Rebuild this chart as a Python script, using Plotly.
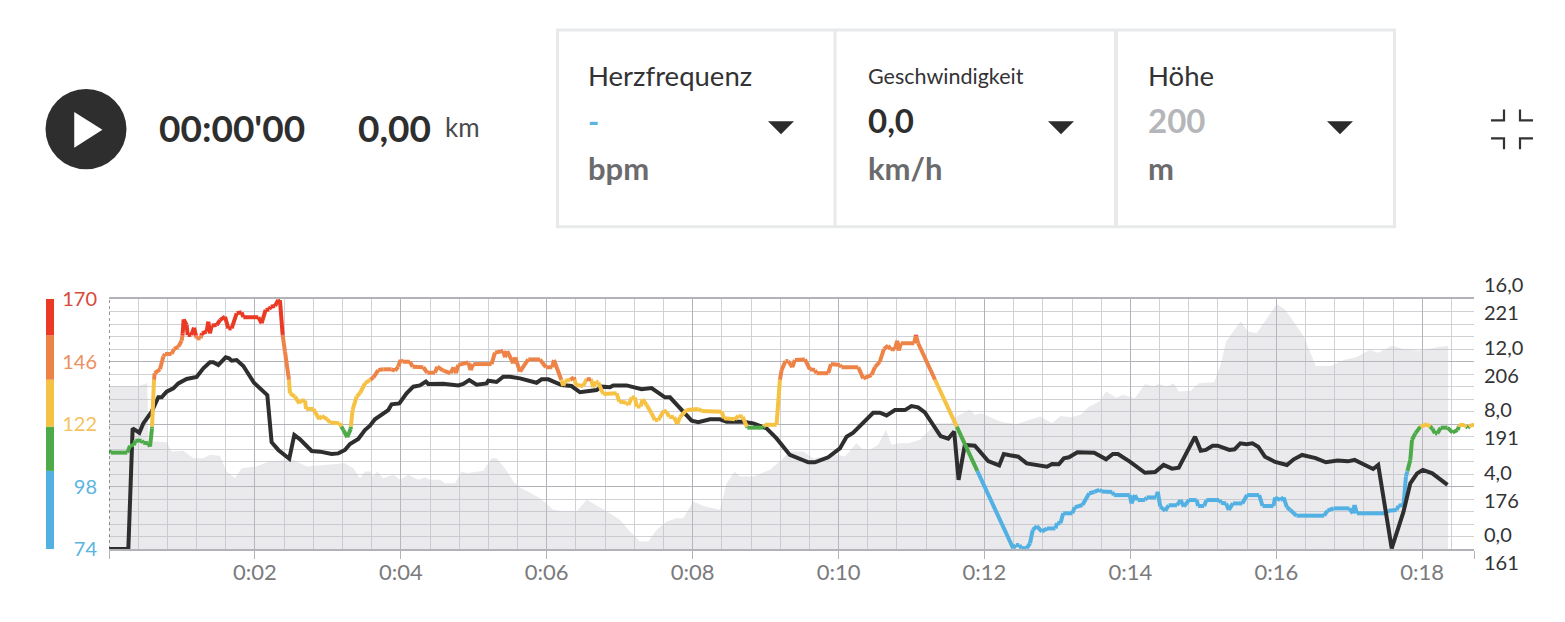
import plotly.graph_objects as go

# ---------- data ----------
alt_time = [0,0.379,0.525,0.539,0.79,0.859,1.019,1.156,1.293,1.384,1.521,1.612,1.727,1.818,2.024,2.183,2.526,2.709,3.234,3.348,3.44,3.508,3.577,3.623,3.677,3.76,3.897,3.988,4.102,4.239,4.331,4.399,4.536,4.605,4.742,4.833,4.902,5.13,5.244,5.313,5.427,5.541,5.633,5.77,5.907,6.09,6.227,6.409,6.547,6.707,6.866,7.003,7.141,7.278,7.392,7.506,7.643,7.78,7.872,8.008,8.168,8.374,8.465,8.579,8.648,8.831,9.059,9.219,9.333,9.516,9.653,9.973,10.087,10.247,10.338,10.429,10.543,10.649,10.726,10.841,10.955,11.115,11.344,11.527,11.617,11.8,11.868,11.959,12.21,12.347,12.44,12.579,12.764,12.926,13.042,13.181,13.32,13.436,13.575,13.667,13.806,13.899,14.061,14.2,14.316,14.385,14.501,14.594,14.663,14.826,14.941,15.15,15.243,15.312,15.511,15.613,15.729,16.007,16.123,16.378,16.54,16.748,16.933,17.096,17.281,17.397,17.582,17.744,17.953,18.207,18.355]
alt_m = [200,200,200.8,186.9,186.6,184.4,184.6,182.8,182.8,183.6,183.3,179.6,178,180.4,180.8,182,182.4,180.8,181.6,180.4,178,179.6,179.6,178.4,179.6,178,178.8,177.6,178.8,177.6,178.2,177.6,177.6,176.8,176.8,179.6,179.2,179.8,182.8,182.8,180.4,177.2,175.8,174.4,173.2,170.4,170,170,172.8,171.2,169.6,168,165.2,162.8,162.8,165.6,167.6,168.4,168.4,172.4,171.2,170.4,176.8,179.6,178.4,178.4,180,182.4,184.4,184.4,182.8,183.6,183.2,186.4,184.8,184.8,186,189.6,186,186.4,186.4,187.2,191.2,191.2,192.8,194.4,193.2,193.6,191.6,191.2,191,191.8,192.8,191.2,192.9,192.6,193.2,195.2,196.4,198.8,197.3,198,197.2,200.6,200,200.6,200,200.8,198.8,199,200.8,201,205.6,210.8,215.6,213.2,212.8,219.8,218.4,212,204.9,204.9,206.4,207,208.8,208.1,209.8,209,208.6,209.4,209.8]

speed_time = [0,0.265,0.324,0.416,0.47,0.585,0.676,0.722,0.79,0.882,0.95,1.064,1.201,1.293,1.384,1.43,1.498,1.599,1.645,1.681,1.75,1.841,1.987,2.069,2.17,2.229,2.321,2.471,2.54,2.618,2.778,2.892,3.052,3.143,3.234,3.303,3.417,3.508,3.577,3.645,3.737,3.828,3.874,3.979,4.079,4.171,4.262,4.344,4.376,4.582,4.788,4.856,4.938,5.039,5.176,5.199,5.313,5.404,5.496,5.633,5.861,5.93,6.021,6.204,6.34,6.455,6.683,6.752,6.866,6.912,7.095,7.3,7.437,7.62,7.689,7.826,7.986,8.077,8.237,8.374,8.465,8.694,8.831,9.014,9.15,9.333,9.447,9.585,9.676,9.858,10.018,10.11,10.201,10.338,10.475,10.566,10.658,10.772,10.909,11.0,11.091,11.183,11.297,11.398,11.503,11.585,11.645,11.731,11.868,12.051,12.202,12.265,12.347,12.463,12.579,12.857,12.926,13.019,13.088,13.158,13.274,13.505,13.667,13.76,13.83,13.992,14.2,14.339,14.455,14.571,14.663,14.779,14.886,14.965,15.034,15.127,15.196,15.358,15.428,15.507,15.59,15.673,15.752,15.845,15.984,16.146,16.239,16.354,16.54,16.679,16.841,16.98,17.073,17.327,17.397,17.582,17.744,17.837,17.93,18.008,18.138,18.347]
speed_kmh = [0,0,7.72,7.44,8.04,8.79,9.71,9.71,10.07,10.28,10.6,10.88,11.01,11.56,11.95,11.95,11.77,12.27,12.2,12.05,12.09,11.71,10.64,10.28,9.85,6.83,6.34,5.78,7.3,7.02,6.27,6.23,6.08,6.12,6.34,6.72,7.04,7.61,7.89,8.3,8.58,8.89,9.26,9.32,9.96,10.39,10.47,10.71,10.56,10.58,10.47,10.56,10.81,10.52,10.6,10.77,10.69,11.03,11.03,10.92,10.64,10.86,10.86,10.49,10.43,10.03,10.17,10.39,10.35,10.47,10.47,10.22,10.3,9.71,9.71,9.0,8.21,8.11,8.3,8.3,8.15,8.15,8.04,7.72,7.08,6.02,5.8,5.55,5.55,5.87,6.44,7.19,7.44,8.04,8.72,8.72,8.55,8.89,8.89,9.15,9.07,8.75,8.0,7.23,7.06,7.51,4.42,6.66,6.61,5.63,5.35,6.08,6.0,5.91,5.48,5.27,5.44,5.42,5.8,5.87,6.19,6.16,5.74,6.08,6.08,5.59,4.88,4.93,5.38,5.14,5.2,6.23,7.19,6.29,6.34,6.61,6.61,6.34,6.38,6.76,6.7,6.76,6.55,5.91,5.57,5.38,5.74,6.02,5.82,5.55,5.67,5.61,5.7,5.12,5.38,0.04,2.39,4.2,4.84,5.06,4.84,4.1]

hr_time = [0,0.027,0.251,0.288,0.343,0.361,0.448,0.47,0.539,0.562,0.589,0.617,0.626,0.699,0.745,0.767,0.859,0.891,0.95,0.996,1.01,1.023,1.064,1.078,1.128,1.165,1.201,1.256,1.274,1.338,1.361,1.384,1.407,1.476,1.521,1.59,1.636,1.681,1.75,1.818,1.841,2.047,2.092,2.147,2.197,2.216,2.275,2.32,2.343,2.38,2.412,2.467,2.48,2.549,2.609,2.627,2.687,2.701,2.8,2.883,2.915,2.992,3.029,3.157,3.212,3.266,3.312,3.339,3.394,3.44,3.508,3.577,3.623,3.691,3.76,3.874,3.92,3.965,3.997,4.025,4.125,4.162,4.308,4.363,4.468,4.5,4.582,4.683,4.72,4.756,4.788,4.925,4.957,4.993,5.244,5.29,5.404,5.427,5.459,5.541,5.568,5.633,5.747,5.907,5.989,6.076,6.099,6.204,6.227,6.25,6.318,6.373,6.401,6.501,6.547,6.606,6.638,6.674,6.707,6.775,6.958,6.994,7.095,7.122,7.163,7.209,7.232,7.286,7.314,7.369,7.437,7.483,7.528,7.606,7.643,7.675,7.744,7.79,7.826,7.917,8.077,8.123,8.397,8.429,8.58,8.625,8.685,8.749,8.967,8.99,9.15,9.196,9.219,9.274,9.31,9.365,9.402,9.539,9.607,9.676,9.699,9.858,9.895,10.018,10.04,10.27,10.338,10.452,10.498,10.566,10.621,10.68,10.712,10.772,10.804,10.827,10.854,11.037,11.06,11.091,12.393,12.43,12.477,12.509,12.579,12.625,12.662,12.718,12.787,12.857,12.972,12.996,13.042,13.079,13.204,13.237,13.343,13.436,13.505,13.575,13.607,13.751,13.774,13.992,14.015,14.061,14.098,14.2,14.223,14.353,14.376,14.409,14.478,14.525,14.64,14.687,14.733,14.803,14.909,14.928,15.011,15.043,15.219,15.243,15.312,15.349,15.405,15.534,15.599,15.766,15.812,15.96,15.984,16.053,16.1,16.146,16.192,16.276,16.656,16.702,16.785,17.003,17.049,17.073,17.105,17.489,17.536,17.651,17.675,17.744,17.777,17.795,17.837,17.86,17.906,17.976,18.068,18.138,18.175,18.208,18.254,18.347,18.416,18.486,18.509,18.578,18.625,18.671,18.717]
hr_bpm = [111.6,111,111,113.7,113.9,115.6,115.6,114.8,114.6,113.3,120.3,138.9,141.5,143,147.9,148.9,148.9,150.8,151.7,154,156.8,162.2,160,156.2,156.2,159,154.9,154.9,156.8,157.5,161.3,156.8,159.8,160,161.9,163.2,158.7,158.7,164.5,164.9,163,163,160.7,165.8,166,167,167.3,169.6,169.6,156.2,149.8,138.9,133.8,132.5,129.9,131,131,127.8,127.8,123.8,125.1,123.8,122.6,122.3,119.7,116.9,120.1,127.4,132.5,133.8,137.6,138.9,139.8,142.7,143,143,142.5,144,146.6,145.9,145.9,144,143.8,141.7,141.7,144,142.5,141.5,143.8,141.5,144.7,145.6,142.7,145,145,149.4,150,147.6,150,145.3,147.6,142.1,146.8,146.8,143.8,143.8,146.6,138.6,136.6,138.6,138.9,139.9,137,136.6,139.2,139.2,136.1,138.3,137.9,133.5,133.8,130.6,130.2,129.3,132.2,132.2,128.7,128.7,131.5,129.3,126.1,123.5,123.5,127.1,126.7,124.8,124.6,122,124.6,127.4,127.8,127,126.7,124.2,123.8,125.1,124.8,120.6,120.6,121.7,121.7,138.9,142.7,146.2,146.2,143.8,146.6,146.8,143,142.7,141.5,141.5,145,144.7,143.8,143.8,139.5,140.8,143.8,145.9,150.8,152.1,150.7,150.7,154,150.2,153,153,156.2,153,74.3,75.5,75.5,74.3,74.3,76.2,81.3,82.8,80.7,81.9,81.9,83.9,83.9,87.7,87.7,90,90.9,95.4,95.9,96.7,96.1,95.9,94.7,94.7,91.5,94.7,92.8,92.8,93.8,93.8,96,90.3,88.7,90.8,90.8,92.8,90.3,92.8,92.8,90.5,90.5,92.8,92.8,91.8,91.5,89,91.5,91.5,94.7,94.7,90.5,90.5,93.8,92.8,93.8,90,89,86.8,86.8,88.7,89.6,89.6,87.7,90.9,87.7,87.7,88.7,89,90.6,90.9,101.8,103.7,108.2,115.9,118.4,121,121.9,120.3,118.4,118.4,120.6,120.6,118.7,119.7,121.6,121.6,120.6,121.6,121.6]

zone_edges = [74, 104, 121, 139, 156, 170]
zone_colors = ["#52b0e3", "#4caa48", "#f6c244", "#ee8348", "#ea3a24"]

hr_tick_vals = [74, 98, 122, 146, 170]
hr_tick_colors = ["#5ab4e0", "#5ab4e0", "#f4c360", "#ee9060", "#d84a3b"]
speed_tick_vals = [0, 4, 8, 12, 16]
speed_tick_text = ["0,0", "4,0", "8,0", "12,0", "16,0"]
alt_tick_vals = [161, 176, 191, 206, 221]
x_tick_vals = [0, 2, 4, 6, 8, 10, 12, 14, 16, 18, 18.71]
x_tick_text = ["", "0:02", "0:04", "0:06", "0:08", "0:10", "0:12", "0:14", "0:16", "0:18", ""]

# ---------- geometry of the plot inside the page ----------
W, H = 1565, 622
L, R, T, B = 109, 1474, 299, 549.5
def px(x): return (x - L) / (R - L)
def py(y): return (B - y) / (B - T)

def zone_of(v):
    for i in range(len(zone_colors)):
        if v < zone_edges[i + 1]:
            return i
    return len(zone_colors) - 1

def split_by_zone(ts, vs):
    """Break the heart-rate line where it crosses a zone edge, one x/y list per zone."""
    out = [([], []) for _ in zone_colors]
    for k in range(len(ts) - 1):
        t0, v0, t1, v1 = ts[k], vs[k], ts[k + 1], vs[k + 1]
        cuts = [(t0, v0)]
        inner = [e for e in zone_edges[1:-1] if min(v0, v1) < e < max(v0, v1)]
        inner.sort(reverse=v1 < v0)
        for e in inner:
            cuts.append((t0 + (e - v0) / (v1 - v0) * (t1 - t0), e))
        cuts.append((t1, v1))
        for (a, b), (c, d) in zip(cuts, cuts[1:]):
            z = zone_of((b + d) / 2)
            out[z][0].extend([a, c, None])
            out[z][1].extend([b, d, None])
    return out

fig = go.Figure()

fig.add_trace(go.Scatter(x=alt_time, y=alt_m, mode="lines", fill="tozeroy",
                         line=dict(width=0), fillcolor="rgba(190,192,200,0.33)",
                         yaxis="y", hoverinfo="skip", showlegend=False))

LW = 4.0
segs = split_by_zone(hr_time, hr_bpm)
fig.add_trace(go.Scatter(x=segs[0][0], y=segs[0][1], mode="lines", yaxis="y2",
                         line=dict(color=zone_colors[0], width=LW),
                         hoverinfo="skip", showlegend=False))
fig.add_trace(go.Scatter(x=speed_time, y=speed_kmh, mode="lines", yaxis="y3",
                         line=dict(color="#2e2e2e", width=LW),
                         hoverinfo="skip", showlegend=False))
for i in range(1, 5):
    fig.add_trace(go.Scatter(x=segs[i][0], y=segs[i][1], mode="lines", yaxis="y4",
                             line=dict(color=zone_colors[i], width=LW),
                             hoverinfo="skip", showlegend=False))
# cursor head at the start of the timeline
fig.add_trace(go.Scatter(x=[0.03], y=[170.5], mode="markers", yaxis="y4", cliponaxis=False,
                         marker=dict(symbol="triangle-nw", size=8, color="#2e2e2e"),
                         hoverinfo="skip", showlegend=False))

GRID_MAJOR = "#b2b3b8"
GRID_MINOR = "#d0d1d5"
AX_FONT = "Lato"

shapes = []
# heart-rate zone bar
for i, c in enumerate(zone_colors):
    shapes.append(dict(type="rect", xref="paper", yref="y2", x0=px(46), x1=px(54),
                       y0=zone_edges[i], y1=zone_edges[i + 1], fillcolor=c, line_width=0))
# cursor line
shapes.append(dict(type="line", xref="x", yref="paper", x0=0, x1=0, y0=0, y1=1,
                   line=dict(color="#555558", width=1.2, dash="dot"), layer="above"))

def box(x0, y0, x1, y1, color="#e8e9eb", width=3):
    shapes.append(dict(type="rect", xref="paper", yref="paper", x0=px(x0), x1=px(x1),
                       y0=py(y0), y1=py(y1), line=dict(color=color, width=width),
                       fillcolor="rgba(0,0,0,0)"))

def poly(points, fill=None, line=None, width=2, closed=True):
    d = "M " + " L ".join(f"{px(a):.5f},{py(b):.5f}" for a, b in points) + (" Z" if closed else "")
    shapes.append(dict(type="path", xref="paper", yref="paper", path=d,
                       fillcolor=fill if fill else "rgba(0,0,0,0)",
                       line=dict(color=line if line else "rgba(0,0,0,0)", width=width)))

box(557.5, 29.5, 1394.5, 226.5)
shapes.append(dict(type="line", xref="paper", yref="paper", x0=px(835), x1=px(835), y0=py(29), y1=py(227),
                   line=dict(color="#e8e9eb", width=3)))
shapes.append(dict(type="line", xref="paper", yref="paper", x0=px(1116), x1=px(1116), y0=py(29), y1=py(227),
                   line=dict(color="#e8e9eb", width=4)))
shapes.append(dict(type="circle", xref="paper", yref="paper", x0=px(45.5), x1=px(126.5),
                   y0=py(88.5), y1=py(169), fillcolor="#2e2e2e", line_width=0))
poly([(75, 113), (101, 129.5), (75, 146)], fill="#ffffff", line="#ffffff", width=1.5)
for x0 in (768, 1048, 1327):
    poly([(x0, 121), (x0 + 26, 121), (x0 + 13, 134)], fill="#2b2b2b", width=0)
for pts in ([(1491, 120), (1504, 120), (1504, 109)], [(1520, 109), (1520, 120), (1533, 120)],
            [(1491, 138), (1504, 138), (1504, 149)], [(1520, 149), (1520, 138), (1533, 138)]):
    poly(pts, line="#333336", width=2.2, closed=False)

anns = []
def label(x, y, text, size, color, bold=False, anchor="left", family="Lato"):
    anns.append(dict(xref="paper", yref="paper", x=px(x - 2), y=py(y), text=f"<b>{text}</b>" if bold else text,
                     showarrow=False, xanchor=anchor, yanchor="middle",
                     font=dict(family=family, size=size, color=color)))

label(159, 127, "00:00'00", 37, "#2e2e2e", True)
label(358, 127, "0,00", 37, "#2e2e2e", True)
label(445, 127, "km", 26, "#4a4a4d")
label(588, 75, "Herzfrequenz", 27.5, "#333336")
label(588, 121, "-", 30, "#5ab4e0", True)
label(588, 168, "bpm", 31, "#6b6b6e", True)
label(868, 76, "Geschwindigkeit", 21.5, "#333336")
label(868, 120, "0,0", 33, "#2e2e2e", True)
label(868, 168, "km/h", 31, "#6b6b6e", True)
label(1148, 75, "Höhe", 27.5, "#333336")
label(1148, 120, "200", 33, "#b5b6ba", True)
label(1148, 168, "m", 31, "#6b6b6e", True)

fig.update_layout(
    width=W, height=H, autosize=False,
    margin=dict(l=L, r=W - R, t=T, b=H - B, pad=0),
    paper_bgcolor="#ffffff", plot_bgcolor="#ffffff",
    shapes=shapes, annotations=anns, showlegend=False,
    font=dict(family=AX_FONT),
    xaxis=dict(range=[0, 18.71], tickmode="array", tickvals=x_tick_vals, ticktext=x_tick_text,
               ticks="outside", ticklen=8, tickwidth=1, tickcolor=GRID_MAJOR,
               showgrid=True, gridcolor=GRID_MAJOR, gridwidth=1.2, zeroline=False,
               showline=True, linecolor=GRID_MAJOR, linewidth=1.5, mirror=True,
               tickfont=dict(family=AX_FONT, size=22, color="#7a7a7d"), ticklabelstandoff=-5,
               minor=dict(tickmode="linear", tick0=0, dtick=0.4, showgrid=True,
                          gridcolor=GRID_MINOR, gridwidth=1.2, ticks="")),
    yaxis=dict(range=[161, 221], side="right", tickmode="array", tickvals=alt_tick_vals,
               ticktext=[str(v) for v in alt_tick_vals], ticks="", ticklabelposition="outside bottom",
               ticklabelstandoff=9, showgrid=True, gridcolor=GRID_MAJOR, gridwidth=1.2, zeroline=False,
               tickfont=dict(family=AX_FONT, size=20, color="#333336"),
               minor=dict(tickmode="linear", tick0=161, dtick=3, showgrid=True,
                          gridcolor=GRID_MINOR, gridwidth=1.2, ticks="")),
    yaxis2=dict(range=[74, 170], side="left", overlaying="y", tickmode="array", tickvals=hr_tick_vals,
                ticktext=[f'<span style="color:{c}">{v}</span>' for v, c in zip(hr_tick_vals, hr_tick_colors)],
                ticks="", showgrid=False, zeroline=False, ticklabelstandoff=11,
                tickfont=dict(family=AX_FONT, size=20)),
    yaxis3=dict(range=[0, 16], side="right", overlaying="y", tickmode="array", tickvals=speed_tick_vals,
                ticktext=speed_tick_text, ticks="", ticklabelposition="outside top", ticklabelstandoff=9,
                showgrid=False, zeroline=False, tickfont=dict(family=AX_FONT, size=20, color="#333336")),
    yaxis4=dict(range=[74, 170], overlaying="y", visible=False, showgrid=False, zeroline=False),
)

fig.write_html("out.html", config={"displayModeBar": False},
               post_script="document.body.style.margin='0';document.body.style.overflow='hidden';")
